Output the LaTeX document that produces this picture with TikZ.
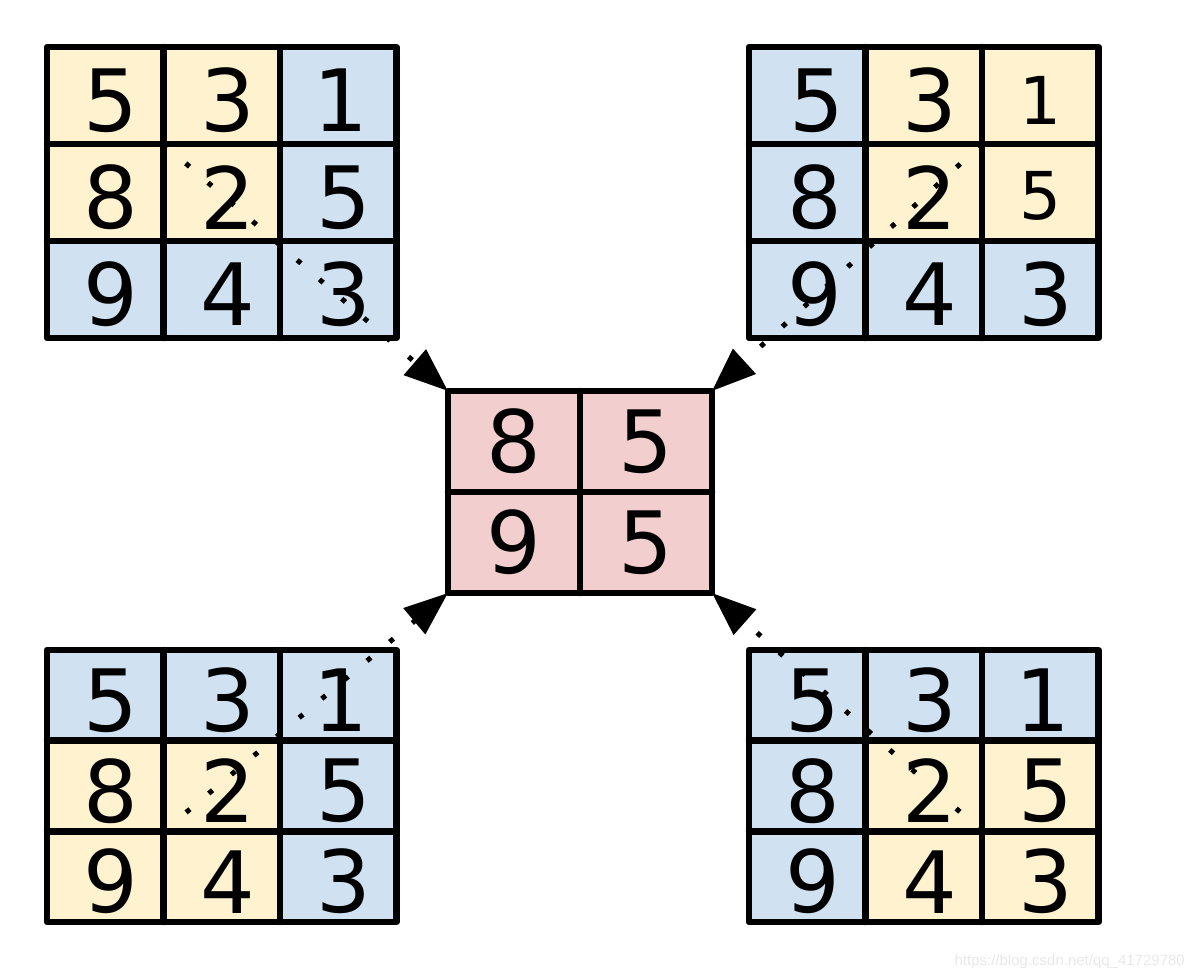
\documentclass[tikz,border=0pt]{standalone}
\usepackage{fontspec}
\setmainfont{DejaVu Sans}
\newfontfamily\wmfont{Liberation Sans}
\usetikzlibrary{arrows.meta}
\definecolor{cy}{HTML}{FFF2CF}
\definecolor{cb}{HTML}{D0E1F1}
\definecolor{cp}{HTML}{F2CECF}
\newcommand\mkgrid[5]{%
  \foreach \col [count=\i from 0] in {#5} {
    \pgfmathtruncatemacro\rr{int(\i/3)+1}
    \pgfmathtruncatemacro\cc{mod(\i,3)+1}
    \node[cell, minimum height=#4pt, fill=\col] (#1\rr\cc) at ({#2+(\cc-0.5)*116.5},{#3+(\rr-0.5)*#4}) {};
  }
}
\newcommand\mkborders[1]{%
  \draw[border] (#111.north west) rectangle (#133.south east);
  \draw[border] (#112.north west) -- (#132.south west);
  \draw[border] (#113.north west) -- (#133.south west);
  \draw[border] (#121.north west) -- (#123.north east);
  \draw[border] (#131.north west) -- (#133.north east);
}
\newcommand\mkdigits[1]{%
  \node[digit] (#111t) at ([shift={(6,5)}]#111.center) {5};
  \node[digit] (#112t) at ([shift={(6,5)}]#112.center) {3};
  \node[digit] (#113t) at ([shift={(3,5)}]#113.center) {1};
  \node[digit] (#121t) at ([shift={(6,5)}]#121.center) {8};
  \node[digit] (#122t) at ([shift={(6,5)}]#122.center) {2};
  \node[digit] (#123t) at ([shift={(6,5)}]#123.center) {5};
  \node[digit] (#131t) at ([shift={(6,5)}]#131.center) {9};
  \node[digit] (#132t) at ([shift={(6,5)}]#132.center) {4};
  \node[digit] (#133t) at ([shift={(6,5)}]#133.center) {3};
}
\begin{document}
\begin{tikzpicture}[x=1pt,y=-1pt,
  cell/.style={draw=none,inner sep=0pt,outer sep=0pt,minimum width=116.5pt},
  ccell/.style={draw=none,inner sep=0pt,outer sep=0pt,minimum width=132pt,minimum height=101pt,fill=cp},
  border/.style={line width=6.5pt,line join=round,line cap=round},
  digit/.style={inner sep=0pt,font=\fontsize{86}{86}\selectfont},
  smalldigit/.style={inner sep=0pt,font=\fontsize{66}{66}\selectfont},
  conn/.style={line width=5pt,line cap=butt,dash pattern=on 5pt off 24.5pt,
    -{Triangle[length=44pt,width=33pt]}}]
\useasboundingbox (0,0) rectangle (1194,978);
% fills
\mkgrid{tl}{47}{47}{97}{cy,cy,cb,cy,cy,cb,cb,cb,cb}
\mkgrid{tr}{749}{47}{97}{cb,cy,cy,cb,cy,cy,cb,cb,cb}
\mkgrid{bl}{47}{650}{90.67}{cb,cb,cb,cy,cy,cb,cy,cy,cb}
\mkgrid{br}{749}{650}{90.67}{cb,cb,cb,cb,cy,cy,cb,cy,cy}
\node[ccell] (c11) at (514,441.5) {};
\node[ccell] (c12) at (646,441.5) {};
\node[ccell] (c21) at (514,542.5) {};
\node[ccell] (c22) at (646,542.5) {};
% connectors
\draw[conn] (tl22.north west) -- (c11.north west);
\draw[conn] (tr22.north east) -- (c12.north east);
\draw[conn] (bl22.south west) -- (c21.south west);
\draw[conn] (br22.south east) -- (c22.south east);
% borders
\mkborders{tl}
\mkborders{tr}
\mkborders{bl}
\mkborders{br}
\draw[border] (c11.north west) rectangle (c22.south east);
\draw[border] (c11.north east) -- (c21.south east);
\draw[border] (c11.south west) -- (c12.south east);
% digits
\mkdigits{tl}
\mkdigits{bl}
\mkdigits{br}
\node[digit] (tr11t) at ([shift={(10,5)}]tr11.center) {5};
\node[digit] (tr12t) at ([shift={(6,5)}]tr12.center) {3};
\node[smalldigit] (tr13t) at ([shift={(0,5)}]tr13.center) {1};
\node[digit] (tr21t) at ([shift={(8,5)}]tr21.center) {8};
\node[digit] (tr22t) at ([shift={(6,5)}]tr22.center) {2};
\node[smalldigit] (tr23t) at ([shift={(0,3)}]tr23.center) {5};
\node[digit] (tr31t) at ([shift={(8,5)}]tr31.center) {9};
\node[digit] (tr32t) at ([shift={(6,5)}]tr32.center) {4};
\node[digit] (tr33t) at ([shift={(6,5)}]tr33.center) {3};
\node[digit] (c11t) at (c11.center) {8};
\node[digit] (c12t) at (c12.center) {5};
\node[digit] (c21t) at (c21.center) {9};
\node[digit] (c22t) at (c22.center) {5};
% watermark
\node[inner sep=0pt,anchor=base east,text=black!9,font=\wmfont\fontsize{15}{15}\selectfont] (wm) at (1185,965) {https://blog.csdn.net/qq\_41729780};
\end{tikzpicture}
\end{document}
